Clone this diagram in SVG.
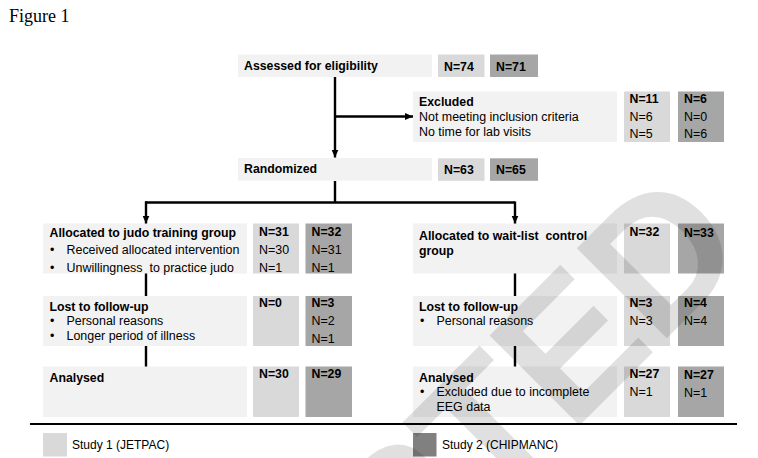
<svg xmlns="http://www.w3.org/2000/svg" width="758" height="458" viewBox="0 0 758 458">
<defs>
<style>
.bg{fill:#f2f2f2}
.n1{fill:#d9d9d9}
.n2{fill:#a6a6a6}
.t{font-family:"Liberation Sans",Arial,sans-serif;font-size:12.45px;fill:#000}
.b{font-weight:bold;font-size:12.3px}
.ln{stroke:#000;stroke-width:2.4;fill:none}
.wm{font-family:"Liberation Sans",Arial,sans-serif;font-weight:bold;font-size:185px;fill:#000;fill-opacity:0.12}
</style>
<marker id="ah" markerUnits="userSpaceOnUse" viewBox="0 0 8 8" refX="8" refY="4" markerWidth="8" markerHeight="8" orient="auto">
<path d="M0,0.5 L8,4 L0,7.5 z" fill="#000"/>
</marker>
</defs>
<rect width="758" height="458" fill="#fff"/>
<text x="9" y="22" style="font-family:'Liberation Serif','Times New Roman',serif;font-size:18px;fill:#000">Figure 1</text>

<g id="assessed">
<rect class="bg" x="238" y="54.5" width="194" height="22.5"/>
<text class="t b" x="244" y="69.5">Assessed for eligibility</text>
<rect class="n1" x="438" y="54.5" width="46.5" height="22.5"/>
<text class="t b" x="444" y="70.5">N=74</text>
<rect class="n2" x="490" y="54.5" width="48" height="22.5"/>
<text class="t b" x="496" y="70.5">N=71</text>
</g>

<g id="excluded">
<rect class="bg" x="413" y="91.5" width="204" height="50.5"/>
<text class="t b" x="419" y="106">Excluded</text>
<text class="t" x="419" y="121">Not meeting inclusion criteria</text>
<text class="t" x="419" y="135.5">No time for lab visits</text>
<rect class="n1" x="624" y="91.5" width="46" height="50.5"/>
<text class="t b" x="629.5" y="103">N=11</text>
<text class="t" x="629.5" y="120.5">N=6</text>
<text class="t" x="629.5" y="137.5">N=5</text>
<rect class="n2" x="678" y="91.5" width="46" height="50.5"/>
<text class="t b" x="684" y="103">N=6</text>
<text class="t" x="684" y="120.5">N=0</text>
<text class="t" x="684" y="137.5">N=6</text>
</g>

<g id="randomized">
<rect class="bg" x="238" y="158" width="194" height="22.7"/>
<text class="t b" x="244" y="172.5">Randomized</text>
<rect class="n1" x="438" y="158.3" width="46.5" height="22.5"/>
<text class="t b" x="444" y="173.5">N=63</text>
<rect class="n2" x="490" y="158.3" width="48" height="22.5"/>
<text class="t b" x="496" y="173.5">N=65</text>
</g>

<g id="alloc-judo">
<rect class="bg" x="43" y="223.5" width="204" height="50"/>
<text class="t b" x="49.5" y="236.5">Allocated to judo training group</text>
<text class="t" x="50" y="254">•</text>
<text class="t" x="66.5" y="254">Received allocated intervention</text>
<text class="t" x="50" y="271.5">•</text>
<text class="t" x="66.5" y="271.5" xml:space="preserve">Unwillingness  to practice judo</text>
<rect class="n1" x="253" y="223.5" width="46" height="50"/>
<text class="t b" x="259" y="236">N=31</text>
<text class="t" x="259" y="254">N=30</text>
<text class="t" x="259" y="271.5">N=1</text>
<rect class="n2" x="305.5" y="223.5" width="46.5" height="50"/>
<text class="t b" x="311.5" y="236">N=32</text>
<text class="t" x="311.5" y="254">N=31</text>
<text class="t" x="311.5" y="271.5">N=1</text>
</g>

<g id="lost-judo">
<rect class="bg" x="43" y="296" width="204" height="50"/>
<text class="t b" x="49.5" y="310.5">Lost to follow-up</text>
<text class="t" x="50" y="325">•</text>
<text class="t" x="66.5" y="325">Personal reasons</text>
<text class="t" x="50" y="339.5">•</text>
<text class="t" x="66.5" y="339.5">Longer period of illness</text>
<rect class="n1" x="253" y="296" width="46" height="50"/>
<text class="t b" x="259" y="307">N=0</text>
<rect class="n2" x="305.5" y="296" width="46.5" height="50"/>
<text class="t b" x="311.5" y="307">N=3</text>
<text class="t" x="311.5" y="325">N=2</text>
<text class="t" x="311.5" y="343">N=1</text>
</g>

<g id="analysed-judo">
<rect class="bg" x="43" y="366.5" width="204" height="50.5"/>
<text class="t b" x="49.5" y="381.5">Analysed</text>
<rect class="n1" x="253" y="366.5" width="46" height="50.5"/>
<text class="t b" x="259" y="377.5">N=30</text>
<rect class="n2" x="305.5" y="366.5" width="46.5" height="50.5"/>
<text class="t b" x="311.5" y="377.5">N=29</text>
</g>

<g id="alloc-control">
<rect class="bg" x="413" y="223.5" width="204" height="50"/>
<text class="t b" x="419" y="240" xml:space="preserve">Allocated to wait-list  control</text>
<text class="t b" x="419" y="254.5">group</text>
<rect class="n1" x="624" y="223.5" width="46" height="50"/>
<text class="t b" x="629.5" y="236">N=32</text>
<rect class="n2" x="678" y="223.5" width="46" height="50"/>
<text class="t b" x="684" y="236.5">N=33</text>
</g>

<g id="lost-control">
<rect class="bg" x="413" y="296" width="204" height="50"/>
<text class="t b" x="419" y="310.5">Lost to follow-up</text>
<text class="t" x="420" y="324.5">•</text>
<text class="t" x="436.5" y="324.5">Personal reasons</text>
<rect class="n1" x="624" y="296" width="46" height="50"/>
<text class="t b" x="629.5" y="306.5">N=3</text>
<text class="t" x="629.5" y="324.5">N=3</text>
<rect class="n2" x="678" y="296" width="46" height="50"/>
<text class="t b" x="684" y="307">N=4</text>
<text class="t" x="684" y="325">N=4</text>
</g>

<g id="analysed-control">
<rect class="bg" x="413" y="366.5" width="204" height="50.5"/>
<text class="t b" x="419" y="381.5">Analysed</text>
<text class="t" x="420" y="396">•</text>
<text class="t" x="436.5" y="396">Excluded due to incomplete</text>
<text class="t" x="436.5" y="411">EEG data</text>
<rect class="n1" x="624" y="366.5" width="46" height="50.5"/>
<text class="t b" x="629.5" y="378">N=27</text>
<text class="t" x="629.5" y="396">N=1</text>
<rect class="n2" x="678" y="366.5" width="46" height="50.5"/>
<text class="t b" x="684" y="378.5">N=27</text>
<text class="t" x="684" y="396.5">N=1</text>
</g>

<g id="connectors">
<path class="ln" d="M335,77 V157.5" marker-end="url(#ah)"/>
<path class="ln" d="M335,116.5 H413" marker-end="url(#ah)"/>
<path class="ln" d="M335,181 V202.5 M145,202.5 H515"/>
<path class="ln" d="M146,201.5 V223.5" marker-end="url(#ah)"/>
<path class="ln" d="M515,201.5 V223.5" marker-end="url(#ah)"/>
<path class="ln" d="M146,273.5 V296 M146,346 V366.5"/>
<path class="ln" d="M515,273.5 V296 M515,346 V366.5"/>
</g>

<g id="legend">
<path d="M30,424 H737" stroke="#000" stroke-width="2.2"/>
<rect x="43" y="433" width="24" height="23.5" fill="#d9d9d9"/>
<text class="t" x="72" y="449" style="font-size:12px">Study 1 (JETPAC)</text>
<rect x="413" y="433" width="23.5" height="23.5" fill="#808080"/>
<text class="t" x="442" y="449" style="font-size:12px">Study 2 (CHIPMANC)</text>
</g>

<text class="wm" transform="translate(33,972) rotate(-45)">ACCEPTED</text>
</svg>
